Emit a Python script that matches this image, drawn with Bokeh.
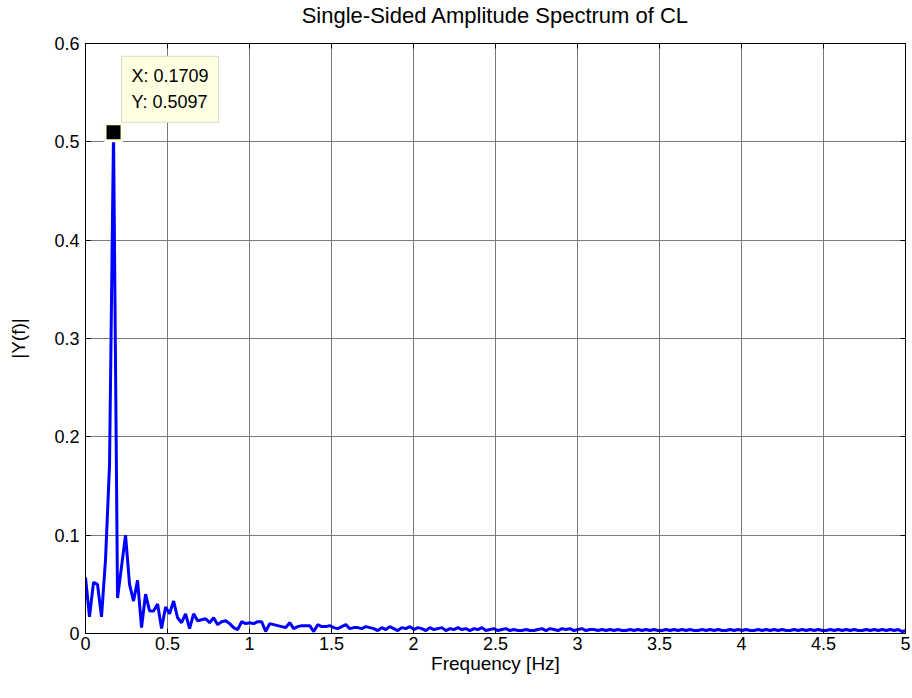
from bokeh.plotting import figure
from bokeh.models import (Range1d, FixedTicker, CustomJSTickFormatter, LinearAxis, Label)
from bokeh.embed import file_html
from bokeh.resources import INLINE

# ---- data ----
DF = 0.1709 / 7  # frequency bin spacing [Hz]
AMP = [
    0.057, 0.017, 0.052, 0.050, 0.017, 0.075, 0.171, 0.5097, 0.036, 0.068,
    0.100, 0.050, 0.033, 0.054, 0.006, 0.040, 0.023, 0.023, 0.030, 0.005,
    0.027, 0.020, 0.033, 0.016, 0.011, 0.020, 0.005, 0.020, 0.013, 0.014,
    0.015, 0.011, 0.016, 0.009, 0.012, 0.013, 0.010, 0.006, 0.004, 0.012,
    0.010, 0.011, 0.010, 0.012, 0.012, 0.002, 0.010, 0.009, 0.008, 0.007,
    0.006, 0.011, 0.005, 0.007, 0.008, 0.008, 0.008, 0.002, 0.009, 0.007,
    0.007, 0.008, 0.006, 0.005, 0.007, 0.009, 0.005, 0.006, 0.006, 0.005,
    0.007, 0.006, 0.005, 0.003,
    0.006, 0.004, 0.007, 0.005, 0.003, 0.006, 0.005, 0.007, 0.004, 0.006,
    0.005, 0.003, 0.006, 0.004, 0.005, 0.006, 0.003, 0.005, 0.004, 0.006,
    0.004, 0.005, 0.003, 0.005, 0.004, 0.006, 0.003,
    0.004, 0.005, 0.003, 0.004, 0.005, 0.003, 0.004, 0.003, 0.003, 0.004,
    0.003, 0.003, 0.004, 0.005, 0.003, 0.005, 0.004, 0.003, 0.005, 0.004,
    0.005, 0.003, 0.004, 0.005, 0.003, 0.004, 0.004, 0.003, 0.004, 0.003,
    0.004, 0.003, 0.004, 0.003, 0.003, 0.004, 0.003, 0.004, 0.003, 0.004,
    0.003, 0.004, 0.003, 0.003, 0.004, 0.003, 0.004, 0.003, 0.004, 0.003,
    0.004, 0.003, 0.003, 0.004, 0.003, 0.004, 0.003, 0.004, 0.003, 0.003,
    0.004, 0.003, 0.004, 0.003, 0.004, 0.003, 0.003, 0.004, 0.003, 0.004,
    0.003, 0.004, 0.003, 0.004, 0.003, 0.003, 0.004, 0.003, 0.004, 0.003,
    0.004, 0.003, 0.004, 0.003, 0.003, 0.004, 0.003, 0.004, 0.003, 0.004,
    0.003, 0.004, 0.003, 0.003, 0.004, 0.003, 0.004, 0.003, 0.004, 0.003,
    0.004, 0.003, 0.004, 0.002, 0.003,
]
FREQ = [i * DF for i in range(len(AMP))]
PEAK_X = 0.1709
PEAK_Y = 0.5097
X_TICKS = [0, 0.5, 1, 1.5, 2, 2.5, 3, 3.5, 4, 4.5, 5]
Y_TICKS = [0, 0.1, 0.2, 0.3, 0.4, 0.5, 0.6]
TITLE = "Single-Sided Amplitude Spectrum of CL"
X_LABEL = "Frequency [Hz]"
Y_LABEL = "|Y(f)|"

FONT = "Liberation Sans"

p = figure(width=912, height=698, output_backend="svg", toolbar_location=None,
           x_range=Range1d(X_TICKS[0], X_TICKS[-1]),
           y_range=Range1d(Y_TICKS[0], Y_TICKS[-1]),
           min_border_left=85, min_border_right=7, min_border_top=43,
           min_border_bottom=65)
p.background_fill_color = "white"
p.border_fill_color = "white"
p.outline_line_color = "black"
p.outline_line_width = 1

p.title.text = TITLE
p.title.align = "center"
p.title.vertical_align = "middle"
p.title.text_font = FONT
p.title.text_font_style = "normal"
p.title.text_font_size = "22px"
p.title.text_color = "black"
p.title.standoff = 2

fmt = CustomJSTickFormatter(code="return String(Math.round(tick*10000)/10000);")

def style_axis(ax, labels=True):
    ax.axis_line_color = "black"
    ax.axis_line_width = 1
    ax.major_tick_in = 5
    ax.major_tick_out = 0
    ax.minor_tick_line_color = None
    ax.major_tick_line_color = "black"
    ax.major_label_text_font = FONT
    if labels:
        ax.major_label_text_color = "black"
        ax.major_label_text_font_size = "18px"
        ax.axis_label_text_font = FONT
        ax.axis_label_text_font_style = "normal"
        ax.axis_label_text_font_size = "19px"
        ax.axis_label_text_color = "black"
    else:
        ax.major_label_text_color = None
        ax.major_label_text_font_size = "0px"
        ax.major_label_standoff = 0

p.xaxis.ticker = FixedTicker(ticks=X_TICKS)
p.yaxis.ticker = FixedTicker(ticks=Y_TICKS)
p.xaxis.formatter = fmt
p.yaxis.formatter = fmt
p.xaxis.axis_label = X_LABEL
p.yaxis.axis_label = Y_LABEL
p.xaxis.major_label_standoff = 3
p.yaxis.major_label_standoff = 6
p.xaxis.axis_label_standoff = 0
p.yaxis.axis_label_standoff = 22
style_axis(p.xaxis[0])
style_axis(p.yaxis[0])

top = LinearAxis(ticker=FixedTicker(ticks=X_TICKS), formatter=fmt)
right = LinearAxis(ticker=FixedTicker(ticks=Y_TICKS), formatter=fmt)
style_axis(top, labels=False)
style_axis(right, labels=False)
# invisible axis label on the top axis acts as a spacer between title and frame
top.axis_label = "|"
top.axis_label_text_color = None
top.axis_label_text_font_size = "10px"
top.axis_label_standoff = 0
p.add_layout(top, "above")
p.add_layout(right, "right")

p.grid.grid_line_color = "#7a7a7a"
p.grid.grid_line_width = 1
p.grid.grid_line_alpha = 1

p.line(FREQ, AMP, line_color="#0000FF", line_width=3)

p.scatter([PEAK_X], [PEAK_Y], marker="square", size=17, fill_color="black",
          line_color="#FFFFE1", line_width=3)

tip = Label(x=PEAK_X, y=PEAK_Y, x_offset=8, y_offset=76,
            text="X: " + f"{PEAK_X:.4f}" + "\nY: " + f"{PEAK_Y:.4f}",
            text_font=FONT, text_font_size="18px", text_color="black",
            text_align="left", text_baseline="top", text_line_height=1.3,
            background_fill_color="#FFFFE1", background_fill_alpha=1,
            border_line_color="#D9D9C8", border_line_width=1, padding=10)
p.add_layout(tip)

open("out.html", "w").write(file_html(p, INLINE))
